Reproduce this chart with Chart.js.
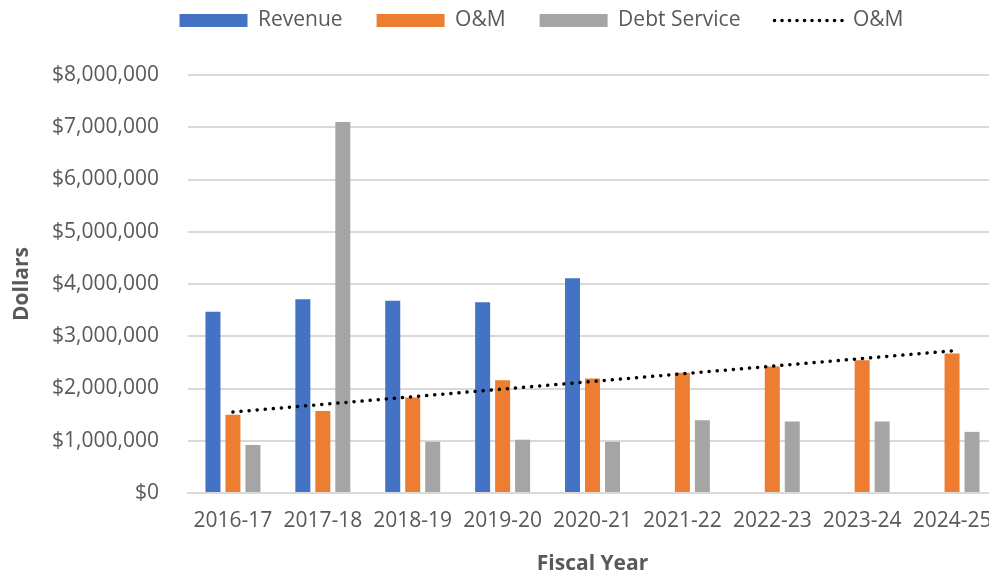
<!DOCTYPE html>
<html>
<head>
<meta charset="utf-8">
<script src="https://cdn.jsdelivr.net/npm/chart.js@4/dist/chart.umd.min.js"></script>
<style>
html,body{margin:0;padding:0;overflow:hidden;background:#fff;width:989px;height:577px;}
#wrap{position:absolute;left:0;top:0;width:1080px;height:577px;}
</style>
</head>
<body>
<div id="wrap"><canvas id="c" width="1080" height="577"></canvas></div>
<script>
const categories = ["2016-17","2017-18","2018-19","2019-20","2020-21","2021-22","2022-23","2023-24","2024-25"];
const revenue = [3470000, 3710000, 3680000, 3650000, 4110000, null, null, null, null];
const oandm = [1500000, 1570000, 1830000, 2160000, 2190000, 2300000, 2420000, 2540000, 2670000];
const debtService = [920000, 7100000, 980000, 1020000, 980000, 1390000, 1370000, 1370000, 1170000];
// trendline endpoints (first and last category)
const trendOM = [1550000, null, null, null, null, null, null, null, 2720000];
const yTicks = { min: 0, max: 8000000, step: 1000000 };

const FONT = "'Open Sans', sans-serif";
const TXT = '#595959';

// empty layout box between the legend and the plot area; also nudges the legend right
const spacer = {
  id: 'spacer',
  beforeInit(chart) {
    const box = {
      position: 'top', weight: 10, fullSize: true, options: {},
      left: 0, top: 0, right: 0, bottom: 0, width: 0, height: 0,
      isHorizontal() { return true; },
      update(maxWidth) { this.width = maxWidth; this.height = 34; this.right = maxWidth; },
      draw() {}
    };
    Chart.layouts.addBox(chart, box);
  },
  afterLayout(chart) {
    const lg = chart.legend;
    if (lg) { lg.left += 43; lg.right += 43; }
  }
};

new Chart(document.getElementById('c'), {
  type: 'bar',
  data: {
    labels: categories,
    datasets: [
      { label: 'Revenue', data: revenue, backgroundColor: '#4472C4', order: 1 },
      { label: 'O&M', data: oandm, backgroundColor: '#ED7D31', order: 1 },
      { label: 'Debt Service', data: debtService, backgroundColor: '#A5A5A5', order: 1 },
      { type: 'line', label: 'O&M', data: trendOM, spanGaps: true, borderColor: '#000',
        borderWidth: 3.5, borderDash: [0.1, 8], borderCapStyle: 'round', pointRadius: 0,
        fill: false, order: 0 }
    ]
  },
  plugins: [spacer],
  options: {
    responsive: false,
    animation: false,
    layout: { padding: { left: 0, right: 83, top: -24, bottom: 0 } },
    datasets: { bar: { categoryPercentage: 0.667, barPercentage: 0.75 } },
    plugins: {
      tooltip: { enabled: false },
      legend: {
        position: 'top',
        labels: {
          font: { family: FONT, size: 21 },
          color: TXT,
          usePointStyle: true,
          pointStyleWidth: 68,
          boxHeight: 13,
          padding: 34,
          sort: (a, b) => a.datasetIndex - b.datasetIndex,
          generateLabels(chart) {
            const items = Chart.defaults.plugins.legend.labels.generateLabels(chart);
            items.forEach(it => {
              const ds = chart.data.datasets[it.datasetIndex];
              if (ds.type === 'line') {
                it.pointStyle = 'line';
                it.strokeStyle = '#000';
                it.fillStyle = '#000';
                it.lineWidth = 3.5;
                it.lineDash = [0.1, 7.4];
                it.lineCap = 'round';
              } else {
                it.pointStyle = 'rect';
                it.fillStyle = ds.backgroundColor;
                it.strokeStyle = ds.backgroundColor;
                it.lineWidth = 0;
              }
              it.fontColor = TXT;
            });
            return items;
          }
        }
      }
    },
    scales: {
      x: {
        grid: { display: false, drawTicks: false },
        border: { color: '#d9d9d9', width: 2 },
        ticks: { font: { family: FONT, size: 21 }, color: TXT, padding: 15, maxRotation: 0, autoSkip: false },
        title: { display: true, text: 'Fiscal Year', font: { family: FONT, size: 21, weight: 'bold' }, color: TXT, padding: { top: 0, bottom: 0 } },
        afterFit(s) { s.height = 84; }
      },
      y: {
        min: yTicks.min, max: yTicks.max,
        grid: { color: '#d9d9d9', lineWidth: 2, drawTicks: false },
        border: { display: false },
        ticks: {
          stepSize: yTicks.step,
          font: { family: FONT, size: 21 }, color: TXT, padding: 29,
          callback: v => '$' + Number(v).toLocaleString('en-US')
        },
        title: { display: true, text: 'Dollars', font: { family: FONT, size: 21, weight: 'bold' }, color: TXT, padding: { top: 9, bottom: 0 } },
        afterFit(s) { s.width = 188; }
      }
    }
  }
});
</script>
</body>
</html>
